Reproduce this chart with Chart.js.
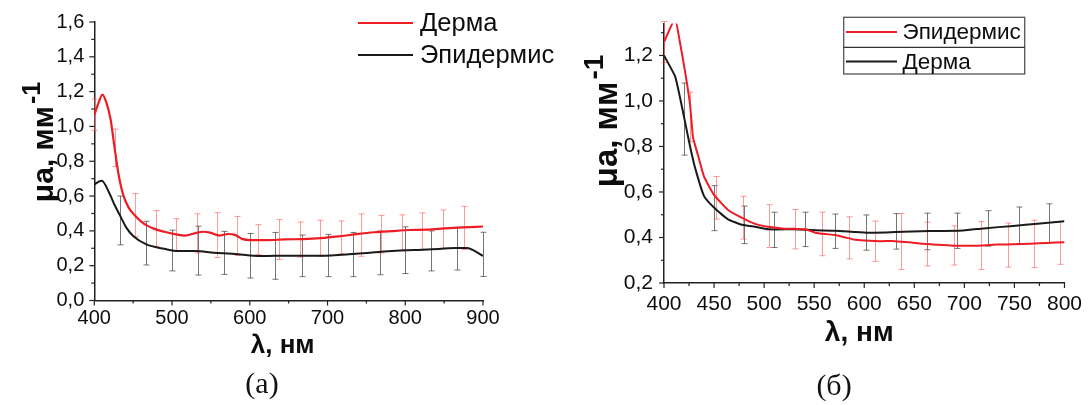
<!DOCTYPE html>
<html>
<head>
<meta charset="utf-8">
<script src="https://cdn.jsdelivr.net/npm/chart.js@4.4.1/dist/chart.umd.min.js"></script>
<style>
  html, body { margin: 0; padding: 0; background: #fff; width: 1091px; height: 405px; overflow: hidden; }
  .panel { position: absolute; top: 0; height: 405px; }
  #pa { left: 0; width: 565px; }
  #pb { left: 545px; width: 546px; }
  .cap { position: absolute; font-family: 'Liberation Serif', 'Times New Roman', serif; font-size: 30px;
         line-height: 1; color: #111; transform: translate(-50%, -50%); white-space: nowrap; }
</style>
</head>
<body>
<div class="panel" id="pa"><canvas id="ca"></canvas></div>
<div class="panel" id="pb"><canvas id="cb"></canvas></div>
<div class="cap" style="left:262px; top:383px;">(а)</div>
<div class="cap" style="left:834px; top:385px;">(б)</div>

<script>
// ---------- panel (а): wavelength 400–900 nm ----------
const dermaA_x = [400, 405, 410.5, 416, 421, 426, 431, 437, 444, 452, 460, 468, 478, 490, 505, 517, 529, 540, 549, 561, 572, 581, 590, 600, 622, 645, 668, 691, 714, 737, 760, 783, 806, 829, 851, 874, 900];
const dermaA_y = [1.067, 1.13, 1.183, 1.13, 1.04, 0.88, 0.73, 0.61, 0.535, 0.49, 0.455, 0.43, 0.41, 0.395, 0.38, 0.373, 0.386, 0.395, 0.39, 0.373, 0.382, 0.377, 0.354, 0.347, 0.347, 0.351, 0.353, 0.358, 0.368, 0.381, 0.392, 0.399, 0.405, 0.407, 0.414, 0.42, 0.425];

const epiA_x = [400, 409.5, 420, 426, 433, 441, 450, 467, 490, 505, 531, 554, 577, 600, 622, 645, 691, 737, 783, 829, 865, 879, 900];
const epiA_y = [0.668, 0.688, 0.61, 0.55, 0.489, 0.42, 0.37, 0.322, 0.297, 0.285, 0.284, 0.274, 0.269, 0.259, 0.256, 0.257, 0.257, 0.269, 0.284, 0.293, 0.301, 0.302, 0.256];

const dermaA_errX  = [400, 426, 452, 479, 505, 532, 558, 584, 611, 637, 664, 690, 717, 743, 769, 796, 822, 849, 875];
const dermaA_errLo = [0.977, 0.77, 0.367, 0.311, 0.283, 0.273, 0.247, 0.259, 0.264, 0.236, 0.249, 0.254, 0.268, 0.254, 0.273, 0.29, 0.29, 0.296, 0.293];
const dermaA_errHi = [1.157, 0.985, 0.614, 0.517, 0.47, 0.498, 0.505, 0.483, 0.436, 0.465, 0.451, 0.461, 0.457, 0.498, 0.489, 0.492, 0.503, 0.52, 0.541];

const epiA_errX  = [433, 467, 500, 533, 567, 600, 633, 667, 700, 733, 767, 800, 833, 867, 900];
const epiA_errLo = [0.32, 0.204, 0.17, 0.146, 0.15, 0.129, 0.122, 0.137, 0.137, 0.137, 0.148, 0.155, 0.17, 0.175, 0.138];
const epiA_errHi = [0.60, 0.455, 0.404, 0.427, 0.397, 0.385, 0.391, 0.376, 0.38, 0.391, 0.399, 0.423, 0.40, 0.42, 0.392];

const xTicksA = [400, 500, 600, 700, 800, 900];
const xMinorA = [450, 550, 650, 750, 850];
const yTicksA = [0, 0.2, 0.4, 0.6, 0.8, 1.0, 1.2, 1.4, 1.6];
const yMinorA = [0.1, 0.3, 0.5, 0.7, 0.9, 1.1, 1.3, 1.5];

// ---------- panel (б): wavelength 400–800 nm ----------
const epiB_x = [400, 411, 416, 421, 426, 429, 434, 440, 450, 464, 478, 491, 504, 518, 531, 541, 551, 561, 571, 581, 591, 601, 615, 631, 645, 658, 672, 688, 705, 718, 732, 749, 766, 782, 800];
const epiB_y = [1.259, 1.36, 1.256, 1.13, 0.985, 0.84, 0.761, 0.667, 0.587, 0.521, 0.486, 0.46, 0.447, 0.44, 0.438, 0.436, 0.421, 0.415, 0.411, 0.40, 0.39, 0.387, 0.384, 0.384, 0.379, 0.372, 0.368, 0.364, 0.364, 0.365, 0.369, 0.37, 0.373, 0.376, 0.379];

const dermaB_x = [400, 411, 416, 421, 426, 431, 440, 451, 464, 478, 491, 504, 531, 551, 571, 591, 604, 631, 665, 699, 719, 749, 773, 800];
const dermaB_y = [1.2, 1.109, 1.015, 0.908, 0.801, 0.707, 0.582, 0.527, 0.48, 0.456, 0.447, 0.436, 0.436, 0.432, 0.43, 0.424, 0.421, 0.424, 0.428, 0.431, 0.44, 0.451, 0.46, 0.471];

const epiB_errX  = [400, 426, 452, 479, 505, 531, 558, 585, 611, 637, 663, 690, 717, 744, 770, 796];
const epiB_errLo = [1.169, 0.822, 0.481, 0.393, 0.356, 0.35, 0.32, 0.306, 0.295, 0.259, 0.275, 0.279, 0.259, 0.27, 0.268, 0.282];
const epiB_errHi = [1.349, 1.039, 0.668, 0.581, 0.544, 0.523, 0.511, 0.491, 0.472, 0.505, 0.467, 0.451, 0.47, 0.463, 0.476, 0.47];

const dermaB_errX  = [420, 450, 480, 510, 541, 571, 602, 632, 663, 693, 724, 755, 785];
const dermaB_errLo = [0.762, 0.43, 0.373, 0.356, 0.36, 0.352, 0.344, 0.349, 0.346, 0.352, 0.362, 0.373, 0.377];
const dermaB_errHi = [1.079, 0.628, 0.538, 0.511, 0.511, 0.503, 0.499, 0.505, 0.507, 0.507, 0.518, 0.534, 0.548];

const xTicksB = [400, 450, 500, 550, 600, 650, 700, 750, 800];
const xMinorB = [425, 475, 525, 575, 625, 675, 725, 775];
const yTicksB = [0.2, 0.4, 0.6, 0.8, 1.0, 1.2];
const yMinorB = [0.3, 0.5, 0.7, 0.9, 1.1, 1.3];

// ---------- shared styling ----------
const SANS = "'Liberation Sans', Arial, sans-serif";
const RED = '#ee1c24';
const BLACK = '#1a1a1a';
const RED_ERR = 'rgba(255,70,70,0.55)';
const GRAY_ERR = 'rgba(60,60,60,0.7)';
const AXIS = '#222';
const TEXT = '#0d0d0d';

const pts = (xs, ys) => xs.map((x, i) => ({ x, y: ys[i] }));
const comma = v => Number(v).toFixed(1).replace('.', ',');

// error bars, axis tick marks, axis titles and legend
const decor = {
  id: 'decor',
  beforeDatasetsDraw(chart, args, o) {
    const { ctx, scales: { x, y } } = chart;
    ctx.save();
    ctx.lineWidth = 1;
    o.errors.forEach(e => {
      ctx.strokeStyle = e.color;
      e.x.forEach((xv, i) => {
        const px = Math.round(x.getPixelForValue(xv)) + 0.5;
        const lo = y.getPixelForValue(e.lo[i]);
        const hi = y.getPixelForValue(e.hi[i]);
        ctx.beginPath();
        ctx.moveTo(px, lo); ctx.lineTo(px, hi);
        ctx.moveTo(px - 3, lo); ctx.lineTo(px + 3, lo);
        ctx.moveTo(px - 3, hi); ctx.lineTo(px + 3, hi);
        ctx.stroke();
      });
    });
    ctx.restore();
  },
  afterDraw(chart, args, o) {
    const { ctx, chartArea: a, scales: { x, y } } = chart;
    ctx.save();
    // tick marks, pointing outwards
    ctx.strokeStyle = AXIS;
    ctx.lineWidth = 1.2;
    const tx = (vals, len) => vals.forEach(v => {
      const px = x.getPixelForValue(v);
      ctx.beginPath(); ctx.moveTo(px, a.bottom); ctx.lineTo(px, a.bottom + len); ctx.stroke();
    });
    const ty = (vals, len) => vals.forEach(v => {
      const py = y.getPixelForValue(v);
      if (py < a.top - 0.5) return;
      ctx.beginPath(); ctx.moveTo(a.left, py); ctx.lineTo(a.left - len, py); ctx.stroke();
    });
    tx(o.xMajor, 5); tx(o.xMinor, 3);
    ty(o.yMajor, 5); ty(o.yMinor, 3);

    ctx.fillStyle = TEXT;
    // x axis title
    ctx.font = `bold ${o.xTitle.size}px ${SANS}`;
    ctx.textAlign = 'center';
    ctx.textBaseline = 'alphabetic';
    ctx.fillText(o.xTitle.text, (a.left + a.right) / 2 + (o.xTitle.dx || 0), o.xTitle.y);

    // y axis title with superscript, rotated
    const t = o.yTitle;
    ctx.translate(t.x, t.y);
    ctx.rotate(-Math.PI / 2);
    ctx.textAlign = 'left';
    ctx.font = `bold ${t.size}px ${SANS}`;
    const w1 = ctx.measureText(t.main).width;
    ctx.font = `bold ${t.supSize}px ${SANS}`;
    const w2 = ctx.measureText(t.sup).width;
    const sx = -(w1 + w2) / 2;
    ctx.font = `bold ${t.size}px ${SANS}`;
    ctx.fillText(t.main, sx, 0);
    ctx.font = `bold ${t.supSize}px ${SANS}`;
    ctx.fillText(t.sup, sx + w1 + 2, -t.size * 0.42);
    ctx.setTransform(1, 0, 0, 1, 0, 0);

    // legend
    const L = o.legend;
    if (L.box) {
      ctx.strokeStyle = '#555';
      ctx.lineWidth = 1.3;
      ctx.strokeRect(L.box.x, L.box.y, L.box.w, L.box.h);
      ctx.beginPath();
      ctx.moveTo(L.box.x, L.box.y + L.box.split); ctx.lineTo(L.box.x + L.box.w, L.box.y + L.box.split);
      ctx.strokeStyle = '#333';
      ctx.stroke();
    }
    ctx.font = `${L.size}px ${SANS}`;
    ctx.textAlign = 'left';
    ctx.textBaseline = 'middle';
    L.order.forEach((di, k) => {
      const ds = chart.data.datasets[di];
      const ly = L.y[k];
      ctx.strokeStyle = ds.borderColor;
      ctx.lineWidth = 2;
      ctx.beginPath(); ctx.moveTo(L.x1, ly); ctx.lineTo(L.x2, ly); ctx.stroke();
      ctx.fillStyle = TEXT;
      ctx.fillText(ds.label, L.tx, ly + 1);
    });
    ctx.restore();
  }
};

function makeChart(id, cfg) {
  return new Chart(document.getElementById(id), {
    type: 'line',
    data: { datasets: cfg.datasets },
    options: {
      responsive: true,
      maintainAspectRatio: false,
      animation: false,
      devicePixelRatio: 1,
      events: [],
      layout: { padding: cfg.padding },
      elements: { point: { radius: 0 }, line: { borderWidth: 2, cubicInterpolationMode: 'monotone' } },
      scales: {
        x: {
          type: 'linear', min: cfg.xMin, max: cfg.xMax,
          afterBuildTicks: s => { s.ticks = cfg.xMajor.map(v => ({ value: v })); },
          afterFit: s => { s.height = cfg.xHeight; },
          grid: { display: false, drawTicks: false },
          border: { display: true, color: AXIS, width: 1.5 },
          ticks: { font: { family: SANS, size: cfg.tickSize }, color: TEXT, padding: cfg.xPad, maxRotation: 0, autoSkip: false }
        },
        y: {
          type: 'linear', min: cfg.yMin, max: cfg.yMax,
          afterBuildTicks: s => { s.ticks = cfg.yMajor.map(v => ({ value: v })); },
          afterFit: s => { s.width = cfg.yWidth; },
          grid: { display: false, drawTicks: false },
          border: { display: true, color: AXIS, width: 1.5 },
          ticks: { font: { family: SANS, size: cfg.tickSize }, color: TEXT, padding: cfg.yPad, callback: comma, autoSkip: false }
        }
      },
      plugins: {
        legend: { display: false },
        tooltip: { enabled: false },
        decor: cfg.decor
      }
    },
    plugins: [decor]
  });
}

// panel (а)
makeChart('ca', {
  datasets: [
    { label: 'Дерма', data: pts(dermaA_x, dermaA_y), borderColor: RED, borderWidth: 2.2 },
    { label: 'Эпидермис', data: pts(epiA_x, epiA_y), borderColor: BLACK, borderWidth: 2 }
  ],
  padding: { top: 15, right: 82, left: 0, bottom: 0 },
  xMin: 400, xMax: 900, yMin: 0, yMax: 1.6,
  xMajor: xTicksA, yMajor: yTicksA,
  xHeight: 104.5, yWidth: 94.3, tickSize: 20, xPad: 6, yPad: 10,
  decor: {
    errors: [
      { x: epiA_errX, lo: epiA_errLo, hi: epiA_errHi, color: GRAY_ERR },
      { x: dermaA_errX, lo: dermaA_errLo, hi: dermaA_errHi, color: RED_ERR }
    ],
    xMajor: xTicksA, xMinor: xMinorA, yMajor: yTicksA, yMinor: yMinorA,
    xTitle: { text: 'λ, нм', size: 26, y: 353, dx: -6 },
    yTitle: { x: 53, y: 143, main: 'μa, мм', sup: '-1', size: 30, supSize: 25 },
    legend: { order: [0, 1], x1: 358, x2: 413, tx: 420, y: [23, 55], size: 25.5 }
  }
});

// panel (б)
makeChart('cb', {
  datasets: [
    { label: 'Эпидермис', data: pts(epiB_x, epiB_y), borderColor: RED, borderWidth: 2, cubicInterpolationMode: 'default', tension: 0.15 },
    { label: 'Дерма', data: pts(dermaB_x, dermaB_y), borderColor: BLACK, borderWidth: 2, cubicInterpolationMode: 'default', tension: 0.15 }
  ],
  padding: { top: 0, right: 20, left: 0, bottom: 0 },
  xMin: 400, xMax: 800, yMin: 0.2, yMax: 1.34,
  xMajor: xTicksB, yMajor: yTicksB,
  xHeight: 122, yWidth: 119, tickSize: 21, xPad: 9, yPad: 11,
  decor: {
    errors: [
      { x: dermaB_errX, lo: dermaB_errLo, hi: dermaB_errHi, color: GRAY_ERR },
      { x: epiB_errX, lo: epiB_errLo, hi: epiB_errHi, color: RED_ERR }
    ],
    xMajor: xTicksB, xMinor: xMinorB, yMajor: yTicksB, yMinor: yMinorB,
    xTitle: { text: 'λ, нм', size: 28, y: 341, dx: -5 },
    yTitle: { x: 72, y: 122, main: 'μa, мм', sup: '-1', size: 33, supSize: 28 },
    legend: { order: [0, 1], x1: 301, x2: 352, tx: 357.5, y: [32, 61.5], size: 22.5,
              box: { x: 298.7, y: 17.3, w: 181, h: 56.7, split: 30 } }
  }
});
</script>
</body>
</html>
